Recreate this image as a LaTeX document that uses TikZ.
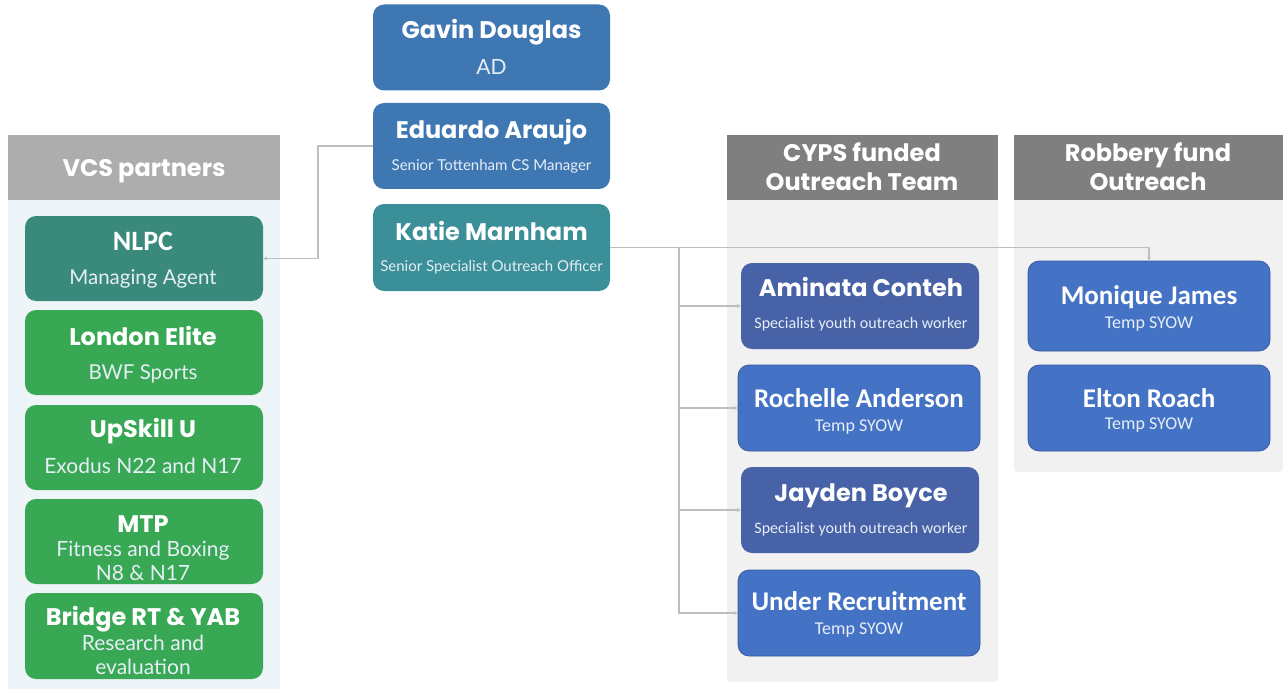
\documentclass[tikz,border=0pt]{standalone}
\usepackage{fontspec}
\setmainfont{Lato}
\newfontfamily\popf{Poppins}
\newfontfamily\carl{Carlito}
\newfontfamily\latf{Lato}
\usetikzlibrary{arrows.meta}
\definecolor{blueA}{HTML}{3F77B3}
\definecolor{tealK}{HTML}{3A8F98}
\definecolor{nlpcC}{HTML}{3A8A7C}
\definecolor{greenC}{HTML}{38A855}
\definecolor{slateC}{HTML}{4862A7}
\definecolor{blueB}{HTML}{4472C4}
\definecolor{blueEdge}{HTML}{34589A}
\definecolor{hdrL}{HTML}{ADADAD}
\definecolor{hdrD}{HTML}{7F7F7F}
\definecolor{panelL}{HTML}{EEF5F9}
\definecolor{panelG}{HTML}{F1F1F1}
\definecolor{lineC}{HTML}{BEBEBE}
\definecolor{subC}{HTML}{E6EEF6}
\tikzset{
  card/.style={rounded corners=11pt, inner sep=0pt},
  bcard/.style={card, fill=blueB, draw=blueEdge, line width=0.7pt},
  tx/.style={anchor=base, inner sep=0pt, text=white},
  nmP/.style={tx, font=\popf\bfseries\fontsize{24}{26}\selectfont},
  nmC/.style={tx, font=\carl\bfseries\fontsize{27}{29}\selectfont},
  sbL/.style={tx, text=subC, font=\latf\fontsize{#1}{#1}\selectfont},
  sbC/.style={tx, text=subC, font=\carl\fontsize{#1}{#1}\selectfont},
  hdr/.style={tx, font=\popf\bfseries\fontsize{24}{26}\selectfont},
  conn/.style={draw=lineC, line width=1.4pt, -{Stealth[length=4pt,width=4pt]}}
}
\begin{document}
\begin{tikzpicture}[x=1pt,y=-1pt]
\useasboundingbox (0,0) rectangle (1283,690);
\fill[white] (0,0) rectangle (1283,690);
% panels
\fill[panelL] (8,200) rectangle (280,689);
\fill[hdrL] (8,135) rectangle (280,200);
\fill[panelG, rounded corners=4pt] (727,200) rectangle (998,682);
\fill[panelG] (727,200) rectangle (998,220);
\fill[hdrD] (727,135) rectangle (998,200);
\fill[panelG, rounded corners=4pt] (1014,200) rectangle (1283,472);
\fill[panelG] (1014,200) rectangle (1283,220);
\fill[hdrD] (1014,135) rectangle (1283,200);
\node[hdr] (hvcs) at (144,177) {VCS partners};
\node[hdr] (hcyps1) at (862,162) {CYPS funded};
\node[hdr] (hcyps2) at (862,190) {Outreach Team};
\node[hdr] (hrob1) at (1148,162) {Robbery fund};
\node[hdr] (hrob2) at (1148,190) {Outreach};
% top column
\node[card, fill=blueA, minimum width=237pt, minimum height=86pt] (gavin) at (491.5,47.5) {};
\node[nmP] (gavinN) at (491.5,39) {Gavin Douglas};
\node[sbL=21] (gavinS) at (491.5,75) {AD};
\node[card, fill=blueA, minimum width=237pt, minimum height=86pt] (eduardo) at (491.5,146) {};
\node[nmP] (eduardoN) at (491.5,139) {Eduardo Araujo};
\node[sbL=15] (eduardoS) at (491.5,171) {Senior Tottenham CS Manager};
\node[card, fill=tealK, minimum width=237pt, minimum height=87pt] (katie) at (491.5,247.5) {};
\node[nmP] (katieN) at (491.5,240) {Katie Marnham};
\node[sbL=15] (katieS) at (491.5,271) {Senior Specialist Outreach Officer};
% left column
\node[card, fill=nlpcC, minimum width=238pt, minimum height=85pt] (nlpc) at (144,258.5) {};
\node[nmC, font=\carl\bfseries\fontsize{28}{30}\selectfont] (nlpcN) at (143,250) {NLPC};
\node[sbL=20.5] (nlpcS) at (143,284) {Managing Agent};
\node[card, fill=greenC, minimum width=238pt, minimum height=85pt] (elite) at (144,352.5) {};
\node[nmP] (eliteN) at (143,345) {London Elite};
\node[sbL=20.5] (eliteS) at (143,379) {BWF Sports};
\node[card, fill=greenC, minimum width=238pt, minimum height=85pt] (upskill) at (144,447.5) {};
\node[nmP] (upskillN) at (143,437) {UpSkill U};
\node[sbL=21] (upskillS) at (143,473) {Exodus N22 and N17};
\node[card, fill=greenC, minimum width=238pt, minimum height=85pt] (mtp) at (144,541.5) {};
\node[nmP] (mtpN) at (143,532) {MTP};
\node[sbL=21] (mtpS1) at (143,556) {Fitness and Boxing};
\node[sbL=21] (mtpS2) at (143,580) {N8 \& N17};
\node[card, fill=greenC, minimum width=238pt, minimum height=86pt] (bridge) at (144,636) {};
\node[nmP] (bridgeN) at (143,625) {Bridge RT \& YAB};
\node[sbL=21] (bridgeS1) at (143,650) {Research and};
\node[sbL=21] (bridgeS2) at (143,674) {evaluation};
% CYPS column
\node[card, fill=slateC, minimum width=238pt, minimum height=86pt] (aminata) at (860,306) {};
\node[nmP] (aminataN) at (861,296) {Aminata Conteh};
\node[sbC=16] (aminataS) at (861,328) {Specialist youth outreach worker};
\node[bcard, minimum width=242pt, minimum height=86pt] (rochelle) at (859,408) {};
\node[nmC] (rochelleN) at (859,407) {Rochelle Anderson};
\node[sbC=18] (rochelleS) at (859,431) {Temp SYOW};
\node[card, fill=slateC, minimum width=238pt, minimum height=86pt] (jayden) at (860,510) {};
\node[nmP] (jaydenN) at (861,501) {Jayden Boyce};
\node[sbC=16] (jaydenS) at (861,533) {Specialist youth outreach worker};
\node[bcard, minimum width=242pt, minimum height=86pt] (under) at (859,613) {};
\node[nmC] (underN) at (859,610) {Under Recruitment};
\node[sbC=18] (underS) at (859,634) {Temp SYOW};
% Robbery column
\node[bcard, minimum width=242pt, minimum height=90pt] (monique) at (1149,306) {};
\node[nmC] (moniqueN) at (1149,304) {Monique James};
\node[sbC=18] (moniqueS) at (1149,328) {Temp SYOW};
\node[bcard, minimum width=242pt, minimum height=86pt] (elton) at (1149,408) {};
\node[nmC] (eltonN) at (1149,407) {Elton Roach};
\node[sbC=18] (eltonS) at (1149,429) {Temp SYOW};
% connectors
\draw[conn] (eduardo.west) -- ++(-55,0) |- (nlpc.east);
\draw[conn] (katie.east) -| (monique.north);
\coordinate (trunk) at (679,247.5);
\draw[conn] (trunk) |- (aminata.west);
\draw[conn] (trunk) |- (rochelle.west);
\draw[conn] (trunk) |- (jayden.west);
\draw[conn] (trunk) |- (under.west);
\end{tikzpicture}
\end{document}
